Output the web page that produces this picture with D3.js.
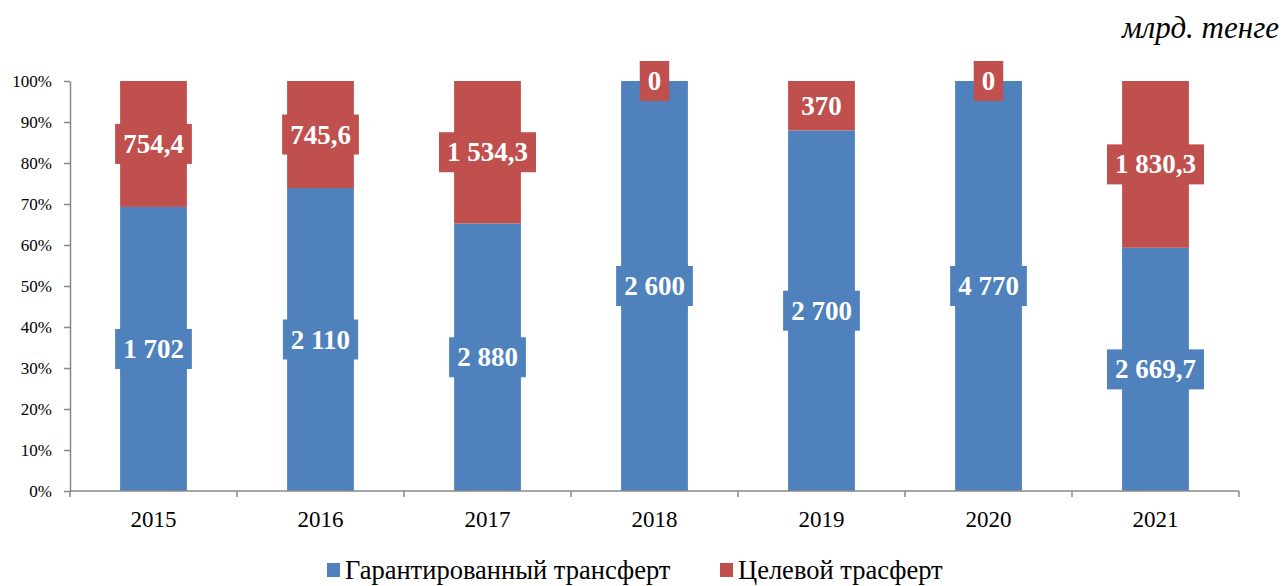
<!DOCTYPE html>
<html>
<head>
<meta charset="utf-8">
<script src="https://cdn.jsdelivr.net/npm/d3@7"></script>
<style>
  body { margin: 0; background: #fff; }
  svg text { font-family: "Liberation Serif", "Times New Roman", serif; }
</style>
</head>
<body>
<svg id="chart" width="1282" height="586"></svg>
<script>
const years = ["2015", "2016", "2017", "2018", "2019", "2020", "2021"];
const guaranteed = [1702, 2110, 2880, 2600, 2700, 4770, 2669.7];
const targeted = [754.4, 745.6, 1534.3, 0, 370, 0, 1830.3];
const seriesNames = ["Гарантированный трансферт", "Целевой трасферт"];
const yTicks = [0, 0.1, 0.2, 0.3, 0.4, 0.5, 0.6, 0.7, 0.8, 0.9, 1];
const unitLabel = "млрд. тенге";

const colors = ["#4F81BD", "#C0504D"];
const serif = "'Liberation Serif', 'Times New Roman', serif";
const svg = d3.select("#chart").attr("font-family", serif);
const margin = { top: 81, left: 70, right: 43, bottom: 95 };
const W = +svg.attr("width"), H = +svg.attr("height");

const x = d3.scaleBand()
    .domain(years)
    .range([margin.left, W - margin.right])
    .paddingInner(0.6)
    .paddingOuter(0.3);

const y = d3.scaleLinear()
    .domain([0, 1])
    .range([H - margin.bottom, margin.top]);

// table for the stack
const rows = years.map((yr, i) => ({ year: yr, g: guaranteed[i], t: targeted[i] }));
const stack = d3.stack().keys(["g", "t"]).offset(d3.stackOffsetExpand);
const layers = stack(rows);

const fmt = v => {
    const parts = String(v).split(".");
    const intPart = parts[0].replace(/\B(?=(\d{3})+(?!\d))/g, " ");
    return parts.length > 1 ? intPart + "," + parts[1] : intPart;
};

// bars
svg.append("g").selectAll("g")
    .data(layers)
    .enter().append("g")
    .attr("fill", (d, i) => colors[i])
    .selectAll("rect")
    .data(d => d)
    .enter().append("rect")
    .attr("x", d => x(d.data.year))
    .attr("y", d => y(d[1]))
    .attr("width", x.bandwidth())
    .attr("height", d => y(d[0]) - y(d[1]));

// y axis
const yAxis = svg.append("g")
    .attr("transform", `translate(${margin.left},0)`)
    .call(d3.axisLeft(y).tickValues(yTicks).tickFormat(d => Math.round(d * 100) + "%").tickSize(6).tickPadding(12).tickSizeOuter(0));
yAxis.attr("font-family", serif);
yAxis.select(".domain").attr("stroke", "#888").attr("stroke-width", 1.5);
yAxis.selectAll(".tick line").attr("stroke", "#888").attr("stroke-width", 1.5);
yAxis.selectAll(".tick text").attr("font-size", 17).attr("fill", "#000");

// x axis
const xAxisG = svg.append("g")
    .attr("transform", `translate(0,${H - margin.bottom})`);
xAxisG.append("line")
    .attr("x1", margin.left).attr("x2", W - margin.right)
    .attr("stroke", "#888").attr("stroke-width", 1.5);
const bounds = years.map(yr => x(yr) - x.step() * x.paddingInner() / 2)
    .concat([W - margin.right]);
bounds[0] = margin.left;
xAxisG.selectAll(".xt").data(bounds).enter().append("line")
    .attr("x1", d => d).attr("x2", d => d)
    .attr("y1", 0).attr("y2", 6)
    .attr("stroke", "#888").attr("stroke-width", 1.5);
xAxisG.selectAll(".xl").data(years).enter().append("text")
    .attr("x", d => x(d) + x.bandwidth() / 2)
    .attr("y", 36)
    .attr("text-anchor", "middle")
    .attr("font-size", 23)
    .text(d => d);

// data labels
const labels = svg.append("g");
layers.forEach((layer, li) => {
    layer.forEach(d => {
        const raw = li === 0 ? d.data.g : d.data.t;
        const cx = x(d.data.year) + x.bandwidth() / 2;
        const cy = (y(d[0]) + y(d[1])) / 2;
        const g = labels.append("g");
        const rect = g.append("rect").attr("fill", colors[li]);
        const t = g.append("text")
            .attr("x", cx).attr("y", cy + 9)
            .attr("text-anchor", "middle")
            .attr("font-size", 27)
            .attr("font-weight", "bold")
            .attr("fill", "#fff")
            .text(fmt(raw));
        const w = t.node().getComputedTextLength() + 16;
        rect.attr("x", cx - w / 2).attr("y", cy - 20).attr("width", w).attr("height", 40);
    });
});

// unit label
svg.append("text")
    .attr("x", W - 3).attr("y", 38)
    .attr("text-anchor", "end")
    .attr("font-size", 31)
    .attr("font-style", "italic")
    .text(unitLabel);

// legend
const legendX = [327, 720];
const legend = svg.append("g");
seriesNames.forEach((name, i) => {
    legend.append("rect")
        .attr("x", legendX[i]).attr("y", 563)
        .attr("width", 13).attr("height", 14)
        .attr("fill", colors[i]);
    legend.append("text")
        .attr("x", legendX[i] + 18).attr("y", 579)
        .attr("font-size", 26.5)
        .text(name);
});
</script>
</body>
</html>
